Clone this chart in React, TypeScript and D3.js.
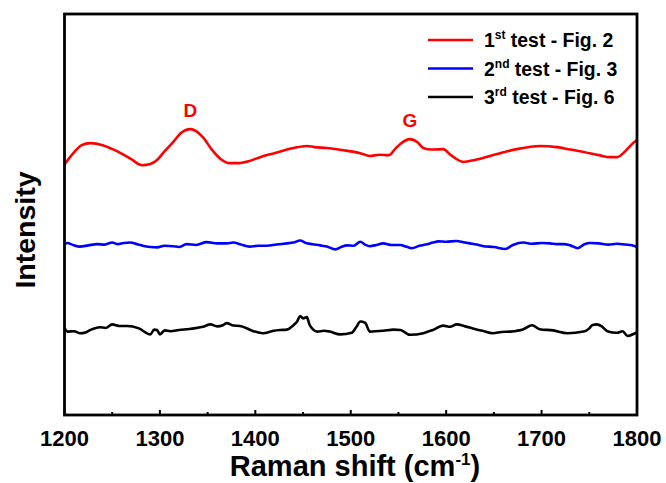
import React from "react";
import * as d3 from "d3";

const redX = [1200, 1210, 1218, 1227, 1240, 1255, 1270, 1281, 1290, 1297, 1305, 1314, 1322, 1332, 1338, 1345, 1355, 1365, 1373, 1381, 1393, 1405, 1420, 1440, 1454, 1462, 1475, 1490, 1510, 1520, 1530, 1540, 1547, 1552, 1562, 1570, 1576, 1585, 1597, 1605, 1618, 1630, 1646, 1660, 1674, 1698, 1716, 1730, 1744, 1760, 1772, 1779, 1789, 1795, 1800];
const redY = [62.5, 65.5, 67.3, 67.8, 67.3, 65.8, 63.8, 62.3, 62.6, 63.6, 65.8, 68.1, 70.3, 71.3, 70.8, 69.3, 66.0, 63.6, 62.8, 62.8, 63.3, 64.3, 65.3, 66.6, 67.1, 66.8, 66.6, 66.1, 65.3, 64.6, 64.9, 64.8, 66.5, 67.6, 68.8, 68.0, 66.6, 66.2, 66.3, 64.8, 63.1, 63.6, 64.6, 65.5, 66.3, 67.1, 66.8, 66.2, 65.6, 64.8, 64.3, 64.3, 66.1, 67.6, 68.6];

const blueX = [1200, 1203, 1209, 1216, 1225, 1234, 1242, 1250, 1256, 1262, 1269, 1276, 1282, 1290, 1297, 1305, 1314, 1320, 1328, 1338, 1349, 1360, 1370, 1377, 1384, 1394, 1403, 1412, 1422, 1433, 1440, 1447, 1453, 1460, 1468, 1475, 1484, 1490, 1496, 1503, 1510, 1515, 1520, 1527, 1534, 1543, 1552, 1558, 1564, 1572, 1580, 1586, 1592, 1600, 1611, 1618, 1625, 1632, 1639, 1650, 1662, 1670, 1681, 1690, 1700, 1709, 1716, 1723, 1730, 1738, 1745, 1751, 1760, 1770, 1779, 1788, 1798, 1800];
const blueY = [42.6, 42.9, 42.4, 42.0, 42.3, 42.6, 42.5, 43.0, 42.6, 42.9, 43.0, 42.6, 42.2, 41.9, 41.8, 42.2, 42.1, 41.9, 42.6, 42.4, 43.1, 42.8, 42.8, 43.0, 42.6, 42.0, 42.2, 42.2, 42.5, 42.8, 43.0, 43.5, 42.9, 42.6, 42.3, 42.0, 41.3, 41.9, 42.3, 42.2, 43.2, 42.5, 42.1, 42.4, 42.8, 42.4, 42.4, 42.0, 41.6, 42.2, 42.6, 43.0, 43.3, 43.2, 43.4, 43.1, 42.8, 42.5, 42.1, 41.9, 41.4, 42.4, 43.0, 42.7, 42.9, 42.8, 42.6, 42.6, 42.3, 41.6, 42.6, 42.9, 42.8, 42.5, 42.7, 42.5, 42.1, 41.9];

const blackX = [1200, 1203, 1210, 1216, 1222, 1227, 1237, 1243, 1250, 1258, 1266, 1278, 1290, 1294, 1297, 1300, 1305, 1311, 1320, 1328, 1336, 1345, 1353, 1360, 1366, 1370, 1377, 1384, 1398, 1408, 1419, 1426, 1433, 1440, 1444, 1447, 1450, 1454, 1457, 1465, 1472, 1478, 1489, 1501, 1506, 1510, 1515, 1520, 1534, 1545, 1552, 1562, 1576, 1586, 1597, 1604, 1611, 1620, 1628, 1638, 1649, 1658, 1667, 1681, 1690, 1698, 1712, 1727, 1744, 1750, 1753, 1758, 1763, 1769, 1779, 1785, 1790, 1798, 1800];
const blackY = [21.8, 20.8, 20.9, 20.4, 20.6, 21.2, 21.9, 21.7, 22.6, 22.2, 22.2, 21.6, 20.1, 21.3, 21.2, 20.1, 21.1, 20.9, 21.2, 21.4, 21.6, 22.0, 22.6, 22.1, 22.4, 22.9, 22.3, 22.2, 20.9, 20.4, 21.0, 21.2, 21.3, 22.4, 23.4, 24.7, 24.1, 24.4, 22.4, 20.8, 21.0, 20.8, 20.1, 20.5, 22.0, 23.3, 23.0, 20.8, 21.0, 21.3, 21.2, 20.0, 20.4, 21.2, 22.3, 22.0, 22.6, 22.1, 21.6, 21.0, 20.4, 20.7, 20.8, 21.4, 22.4, 21.4, 21.1, 20.4, 20.8, 21.6, 22.4, 22.6, 22.1, 20.9, 20.5, 20.9, 19.7, 20.4, 20.6];

const xTicks = [1200, 1300, 1400, 1500, 1600, 1700, 1800];
const xMinorTicks = [1250, 1350, 1450, 1550, 1650, 1750];

const seriesNames = [
  { main: "1", sup: "st", rest: " test - Fig. 2", color: "#ff0000" },
  { main: "2", sup: "nd", rest: " test - Fig. 3", color: "#0000ff" },
  { main: "3", sup: "rd", rest: " test - Fig. 6", color: "#000000" },
];

const peakLabels = [
  { label: "D", x: 1332, y: 71.3 },
  { label: "G", x: 1562, y: 68.8 },
];

const FONT = "'Liberation Sans', Arial, Helvetica, sans-serif";

export default function App() {
  const W = 666, H = 483;
  const left = 64.5, right = 637, top = 14, bottom = 415;
  const x = d3.scaleLinear().domain([1200, 1800]).range([left, right]);
  const y = d3.scaleLinear().domain([0, 100]).range([bottom, top]);
  const line = d3.line<[number, number]>().x(d => x(d[0])).y(d => y(d[1])).curve(d3.curveMonotoneX);

  const series = [
    { xs: redX, ys: redY, color: "#ff0000" },
    { xs: blueX, ys: blueY, color: "#0000ff" },
    { xs: blackX, ys: blackY, color: "#000000" },
  ];

  return (
    <svg width={W} height={H} style={{ position: "absolute", left: 0, top: 0 }} fontFamily={FONT}>
      <rect width={W} height={H} fill="#fff" />
      <defs>
        <clipPath id="plotclip">
          <rect x={left} y={top} width={right - left} height={bottom - top} />
        </clipPath>
      </defs>
      <g clipPath="url(#plotclip)">
        {series.map((s, i) => (
          <path key={i} d={line(s.xs.map((v, j) => [v, s.ys[j]]) as [number, number][]) || ""}
            fill="none" stroke={s.color} strokeWidth={2.6} strokeLinejoin="round" />
        ))}
      </g>
      {peakLabels.map(p => (
        <text key={p.label} x={x(p.x)} y={y(p.y) - 12} textAnchor="middle" fill="#ff0000"
          fontWeight="bold" fontSize={19}>{p.label}</text>
      ))}
      {xTicks.map(t => (
        <line key={t} x1={x(t)} x2={x(t)} y1={bottom} y2={bottom - 5} stroke="#000" strokeWidth={2} />
      ))}
      {xMinorTicks.map(t => (
        <line key={t} x1={x(t)} x2={x(t)} y1={bottom} y2={bottom - 3} stroke="#000" strokeWidth={2} />
      ))}
      <rect x={left} y={top} width={right - left} height={bottom - top} fill="none" stroke="#000" strokeWidth={2.8} />
      {xTicks.map(t => (
        <text key={t} x={x(t)} y={446} textAnchor="middle" fontWeight="bold" fontSize={22}>{t}</text>
      ))}
      <text x={355} y={476} textAnchor="middle" fontWeight="bold" fontSize={29}>
        Raman shift (cm<tspan dy={-11} fontSize={17}>-1</tspan><tspan dy={11}>)</tspan>
      </text>
      <text transform={`translate(35,230) rotate(-90)`} textAnchor="middle" fontWeight="bold" fontSize={28.5}>Intensity</text>
      {seriesNames.map((s, i) => {
        const ly = 40 + i * 28.5;
        return (
          <g key={i}>
            <line x1={428} x2={473} y1={ly} y2={ly} stroke={s.color} strokeWidth={2.6} />
            <text x={484} y={ly + 7} fontWeight="bold" fontSize={19.4}>
              {s.main}<tspan dy={-8} fontSize={12}>{s.sup}</tspan><tspan dy={8}>{s.rest}</tspan>
            </text>
          </g>
        );
      })}
    </svg>
  );
}
